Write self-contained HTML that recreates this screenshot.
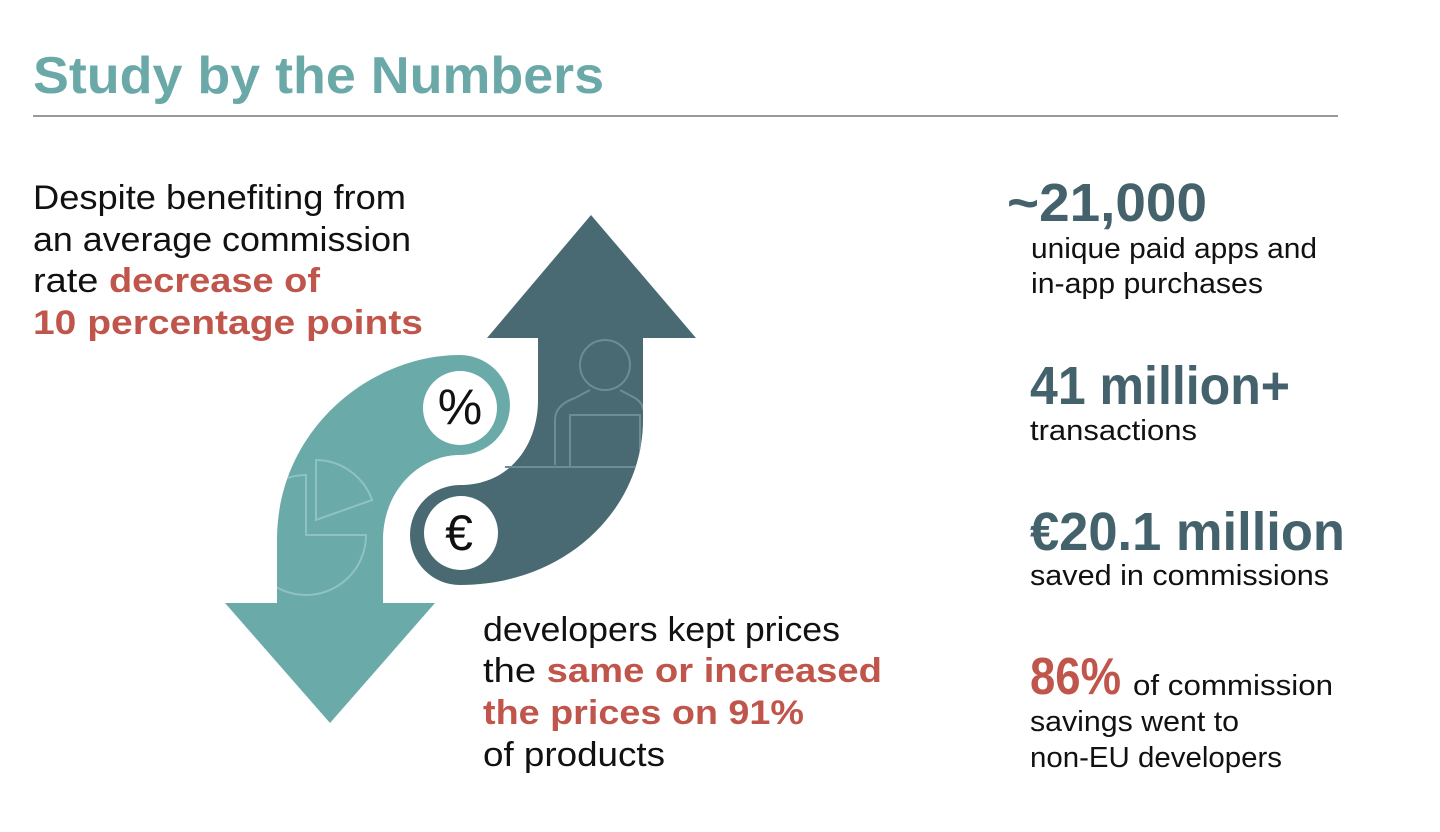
<!DOCTYPE html>
<html><head><meta charset="utf-8"><style>
html,body{margin:0;padding:0;background:#fff;width:1440px;height:832px;overflow:hidden}
svg{display:block}
text{font-family:"Liberation Sans",sans-serif}
.b{font-size:34px;fill:#111}
.r{font-weight:bold;fill:#c0554b}
.s{font-size:54px;font-weight:bold;fill:#44626c}
.d{font-size:29px;fill:#111}
</style></head><body>
<svg width="1440" height="832" viewBox="0 0 1440 832">
<defs>
<clipPath id="ct"><path d="M277 603 L277 540 C277 430 370 355 460 355 A50 50 0 0 1 460 455 C420 455 383 490 383 540 L383 603 Z"/></clipPath>
<clipPath id="cd"><path d="M538 338 L538 400 C538 445 510 485 460 485 A50 50 0 0 0 460 585 C565 585 643 510 643 420 L643 338 Z"/><polygon points="487,338 696,338 591,215"/></clipPath>
</defs>
<text x="33" y="93" font-size="52" font-weight="bold" fill="#6aa9a8" textLength="571" lengthAdjust="spacingAndGlyphs">Study by the Numbers</text>
<line x1="33" y1="116" x2="1338" y2="116" stroke="#333" stroke-width="1"/>

<path d="M277 603 L277 540 C277 430 370 355 460 355 A50 50 0 0 1 460 455 C420 455 383 490 383 540 L383 603 Z" fill="#6aabaa"/>
<polygon points="225,603 435,603 330,723" fill="#6aabaa"/>
<path d="M538 338 L538 400 C538 445 510 485 460 485 A50 50 0 0 0 460 585 C565 585 643 510 643 420 L643 338 Z" fill="#4a6a73"/>
<polygon points="487,338 696,338 591,215" fill="#4a6a73"/>
<g fill="none" stroke="#8fc2c1" stroke-width="2" clip-path="url(#ct)">
<path d="M316 460 L316 520 L372 500 A60 60 0 0 0 316 460 Z"/>
<path d="M306 475 A60 60 0 1 0 366 535 L306 535 Z"/>
</g>
<g fill="none" stroke="#6f8c94" stroke-width="2" clip-path="url(#cd)">
<circle cx="605" cy="365" r="25"/>
<path d="M555 465 L555 420 Q555 405 575 398 L590 390 M620 390 L635 398 Q643 403 643 410"/>
<rect x="570" y="415" width="70" height="52"/>
<line x1="505" y1="467" x2="643" y2="467"/>
</g>
<g fill="none" stroke="#6f8c94" stroke-width="2"><line x1="505" y1="467" x2="540" y2="467"/></g>
<circle cx="460" cy="408" r="37" fill="#fff"/>
<circle cx="461" cy="533" r="37" fill="#fff"/>
<text x="460" y="424" font-size="50" text-anchor="middle" fill="#111">%</text>
<text x="459" y="550" font-size="50" text-anchor="middle" fill="#111">€</text>

<text class="b" x="33" y="209" textLength="373" lengthAdjust="spacingAndGlyphs">Despite benefiting from</text>
<text class="b" x="33" y="251" textLength="378" lengthAdjust="spacingAndGlyphs">an average commission</text>
<text class="b" x="33" y="292" textLength="287" lengthAdjust="spacingAndGlyphs">rate <tspan class="r">decrease of</tspan></text>
<text class="b r" x="33" y="334" textLength="390" lengthAdjust="spacingAndGlyphs">10 percentage points</text>

<text class="b" x="483" y="641" textLength="357" lengthAdjust="spacingAndGlyphs">developers kept prices</text>
<text class="b" x="483" y="682" textLength="399" lengthAdjust="spacingAndGlyphs">the <tspan class="r">same or increased</tspan></text>
<text class="b r" x="483" y="724" textLength="321" lengthAdjust="spacingAndGlyphs">the prices on 91%</text>
<text class="b" x="483" y="766" textLength="182" lengthAdjust="spacingAndGlyphs">of products</text>

<text class="s" x="1007" y="221" textLength="200" lengthAdjust="spacingAndGlyphs">~21,000</text>
<text class="d" x="1031" y="258" textLength="286" lengthAdjust="spacingAndGlyphs">unique paid apps and</text>
<text class="d" x="1031" y="293" textLength="232" lengthAdjust="spacingAndGlyphs">in-app purchases</text>
<text class="s" x="1030" y="404" textLength="260" lengthAdjust="spacingAndGlyphs">41 million+</text>
<text class="d" x="1030" y="440" textLength="167" lengthAdjust="spacingAndGlyphs">transactions</text>
<text class="s" x="1030" y="550" textLength="315" lengthAdjust="spacingAndGlyphs">€20.1 million</text>
<text class="d" x="1030" y="585" textLength="299" lengthAdjust="spacingAndGlyphs">saved in commissions</text>
<text x="1030" y="694" font-size="52" font-weight="bold" fill="#c0554b" textLength="91" lengthAdjust="spacingAndGlyphs">86%</text>
<text class="d" x="1133" y="695" textLength="200" lengthAdjust="spacingAndGlyphs">of commission</text>
<text class="d" x="1030" y="731" textLength="209" lengthAdjust="spacingAndGlyphs">savings went to</text>
<text class="d" x="1030" y="767" textLength="252" lengthAdjust="spacingAndGlyphs">non-EU developers</text>
</svg>
</body></html>
